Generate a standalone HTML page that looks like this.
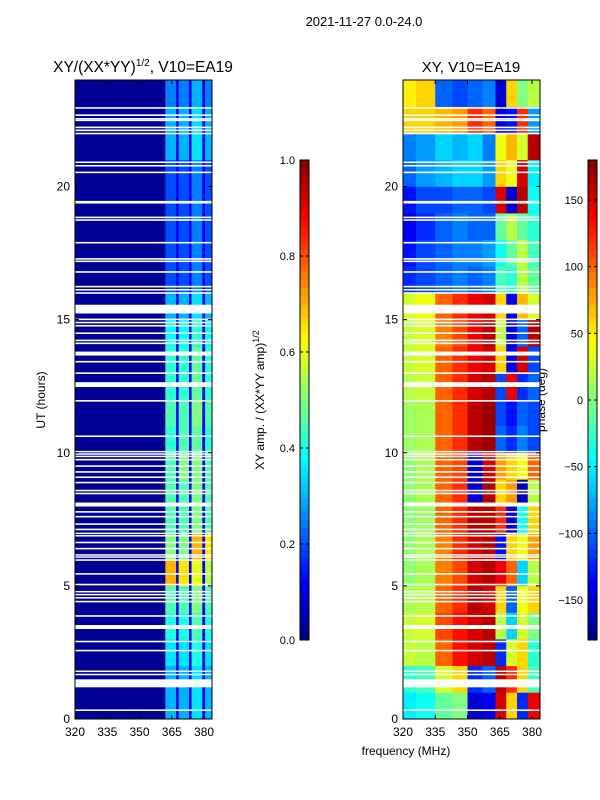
<!DOCTYPE html>
<html><head><meta charset="utf-8">
<style>
body{margin:0;background:#fff;}
svg{display:block;font-family:"Liberation Sans","DejaVu Sans",sans-serif;}
</style></head>
<body>
<svg id="fig" width="600" height="800" viewBox="0 0 600 800" xmlns="http://www.w3.org/2000/svg">
<text x="364" y="26" font-size="13" text-anchor="middle">2021-11-27 0.0-24.0</text>
<text x="143" y="72" font-size="15.5" text-anchor="middle">XY/(XX*YY)<tspan dy="-6" font-size="10">1/2</tspan><tspan dy="6">, V10=EA19</tspan></text>
<text x="471" y="72" font-size="15" text-anchor="middle">XY, V10=EA19</text>
<text x="406" y="755" font-size="12" text-anchor="middle">frequency (MHz)</text>
<text transform="translate(45,400) rotate(-90)" font-size="12" text-anchor="middle">UT (hours)</text>
<text transform="translate(264,400) rotate(-90)" font-size="12" text-anchor="middle">XY amp. / (XX*YY amp)<tspan dy="-5" font-size="9">1/2</tspan></text>
<text transform="translate(545,400) rotate(-90)" font-size="12" text-anchor="middle">phase (deg)</text>
<g id="left"></g>
<g id="right"></g>
<g id="cb1"></g>
<g id="cb2"></g>
</svg>
<script>
// ---- data ----
const yTicks = [0,5,10,15,20];
const xTicks = [320,335,350,365,380];
const ampTicks = [0.0,0.2,0.4,0.6,0.8,1.0];
const phaseTicks = [-150,-100,-50,0,50,100,150];
const ampEdges = [320,362,367,368.2,373,374.2,379.2,380.5,383.7];
const ampStripe1 = [0.3,0.3,0.35,0.4,0.45,0.7,0.5,0.45,0.45,0.45,0.42,0.45,0.42,0.42,0.38,0.3,0.2,0.2,0.2,0.2,0.2,0.3,0.3,0.25];
const ampStripe2 = [0.3,0.3,0.35,0.4,0.45,0.65,0.5,0.45,0.45,0.5,0.45,0.45,0.42,0.42,0.38,0.3,0.2,0.2,0.2,0.2,0.2,0.3,0.3,0.25];
const ampStripe3 = [0.35,0.35,0.4,0.45,0.5,0.6,0.7,0.5,0.5,0.5,0.47,0.5,0.47,0.47,0.42,0.35,0.25,0.25,0.25,0.25,0.25,0.35,0.35,0.3];
const ampStripe4 = [0.3,0.3,0.35,0.4,0.45,0.55,0.65,0.45,0.45,0.45,0.42,0.45,0.42,0.42,0.38,0.3,0.2,0.2,0.2,0.2,0.2,0.3,0.3,0.25];
const ampBackground = 0.02;
const ampGapValue = 0.12;
const phaseEdges = [320,326,335,343,350,357,363,368,373,378,383.7];
const phaseRows = [
[-50,-40,-10,0,-150,-140,150,60,-120,140],
[-30,-20,30,60,-120,-100,160,120,60,-20],
[25,20,100,130,150,160,-120,30,60,-30],
[25,30,110,130,150,160,20,-60,30,0],
[15,20,100,120,160,150,60,-100,40,60],
[5,15,90,110,150,160,140,100,-60,20],
[5,15,90,120,150,160,-130,60,40,80],
[5,10,100,120,160,160,120,-150,-40,60],
[5,15,100,120,-150,160,60,80,-160,20],
[5,15,100,110,-150,150,80,60,40,100],
[10,15,100,120,160,170,-100,-120,-90,-110],
[10,15,100,120,160,170,-110,-130,-100,-110],
[20,25,100,120,150,160,-110,140,-120,-100],
[25,30,100,120,140,150,60,-140,150,-110],
[25,30,90,110,140,160,20,-150,-100,160],
[30,40,100,120,140,150,60,-140,70,30],
[-120,-110,-100,-90,-100,-90,-20,-30,20,-10],
[-130,-110,-100,-90,-90,-80,-40,-10,20,-20],
[-140,-120,-100,-90,-100,-100,-10,20,-10,-30],
[-130,-110,-110,-100,-100,-110,150,-150,160,-40],
[-100,-80,-70,-60,-60,-80,60,40,150,-50],
[-90,-80,-60,-70,-60,-90,40,70,30,160],
[60,60,70,80,120,100,-140,-130,120,-80],
[50,60,-100,-110,-100,-90,-150,60,0,20]];
const gapStart = [22.92,22.65,22.52,22.46,22.19,22.08,21.96,20.88,20.75,20.50,19.36,18.81,18.71,17.86,17.25,17.16,16.76,16.21,16.09,15.97,15.23,14.98,14.86,14.74,14.46,14.19,14.08,13.65,13.39,12.96,12.47,11.92,10.59,10.02,9.93,9.84,9.71,9.47,9.25,9.05,8.85,8.55,8.44,7.98,7.75,7.57,7.29,7.09,6.95,6.86,6.60,6.37,6.14,6.06,5.94,5.42,5.02,4.76,4.65,4.53,4.38,3.84,3.38,2.88,2.54,1.77,1.65,1.19,0.30];
const gapLength = [0.06,0.06,0.05,0.05,0.06,0.06,0.06,0.06,0.06,0.06,0.1,0.06,0.06,0.06,0.06,0.06,0.06,0.06,0.06,0.06,0.33,0.06,0.06,0.06,0.06,0.06,0.06,0.15,0.06,0.06,0.18,0.06,0.06,0.05,0.05,0.05,0.06,0.06,0.06,0.06,0.06,0.06,0.06,0.15,0.06,0.06,0.06,0.06,0.05,0.05,0.06,0.06,0.05,0.05,0.06,0.06,0.06,0.05,0.05,0.05,0.06,0.06,0.15,0.06,0.06,0.05,0.05,0.3,0.06];

// ---- layout ----
const NS="http://www.w3.org/2000/svg";
const Y0=719, Y1=80, HMAX=24;
const yS = h => Y0 - (h/HMAX)*(Y0-Y1);
const panels = {left:{x0:75,x1:212}, right:{x0:403,x1:540}};
const FMIN=320, FMAX=383.7;
function xS(p,f){return p.x0 + (f-FMIN)/(FMAX-FMIN)*(p.x1-p.x0);}
function cl(v){return Math.max(0,Math.min(1,v));}
function jet(t){t=cl(t);const r=cl(1.5-Math.abs(4*t-3)),g=cl(1.5-Math.abs(4*t-2)),b=cl(1.5-Math.abs(4*t-1));
 return `rgb(${Math.round(r*255)},${Math.round(g*255)},${Math.round(b*255)})`;}
function mk(tag,attrs,parent){const e=document.createElementNS(NS,tag);for(const k in attrs)e.setAttribute(k,attrs[k]);parent.appendChild(e);return e;}

// amplitude heatmap
const L=document.getElementById('left');
const stripes=[ampStripe1,ampStripe2,ampStripe3,ampStripe4];
for(let h=0;h<HMAX;h++){
  for(let c=0;c<ampEdges.length-1;c++){
    let v;
    if(c===0) v=ampBackground;
    else if(c%2===1) v=stripes[(c-1)/2][h];
    else v=ampGapValue;
    const r=mk('rect',{x:xS(panels.left,ampEdges[c]),y:yS(h+1),width:xS(panels.left,ampEdges[c+1])-xS(panels.left,ampEdges[c])+0.3,height:yS(h)-yS(h+1)+0.3,fill:jet(v)},L);
    
    
  }
}
// phase heatmap
const R=document.getElementById('right');
for(let h=0;h<HMAX;h++){
  for(let c=0;c<phaseEdges.length-1;c++){
    const v=(phaseRows[h][c]+180)/360;
    const r=mk('rect',{x:xS(panels.right,phaseEdges[c]),y:yS(h+1),width:xS(panels.right,phaseEdges[c+1])-xS(panels.right,phaseEdges[c])+0.3,height:yS(h)-yS(h+1)+0.3,fill:jet(v)},R);
    
    
  }
}
// flagged gaps
for(const key of ['left','right']){
  const p=panels[key], g=document.getElementById(key);
  for(let i=0;i<gapStart.length;i++){
    const r=mk('rect',{x:p.x0,y:yS(gapStart[i]+gapLength[i]),width:p.x1-p.x0,height:Math.max(1.5,yS(gapStart[i])-yS(gapStart[i]+gapLength[i])),fill:'#fff'},g);
    
    
  }
  const fr=mk('rect',{x:p.x0,y:Y1,width:p.x1-p.x0,height:Y0-Y1,fill:'none',stroke:'#000','stroke-width':1},g);
  
  
  for(const t of yTicks){
    const y=yS(t);
    mk('line',{x1:p.x0,x2:p.x0+4,y1:y,y2:y,stroke:'#000'},g);
    mk('line',{x1:p.x1,x2:p.x1-4,y1:y,y2:y,stroke:'#000'},g);
    const tx=mk('text',{x:p.x0-5,y:y+4,'font-size':12,'text-anchor':'end'},g);
    tx.textContent=t;
    
    
  }
  for(const t of xTicks){
    const x=xS(p,t);
    mk('line',{x1:x,x2:x,y1:Y0,y2:Y0-4,stroke:'#000'},g);
    mk('line',{x1:x,x2:x,y1:Y1,y2:Y1+4,stroke:'#000'},g);
    const tx=mk('text',{x:x,y:Y0+17,'font-size':12,'text-anchor':'middle'},g);
    tx.textContent=t;
    
    
  }
}
// colorbars
function colorbar(id,x,vmin,vmax,ticks,fmt){
  const g=document.getElementById(id), top=160, bot=640, N=64;
  for(let i=0;i<N;i++){
    const y=bot-(i+1)*(bot-top)/N;
    mk('rect',{x:x,y:y,width:9,height:(bot-top)/N+0.4,fill:jet((i+0.5)/N)},g);
  }
  mk('rect',{x:x,y:top,width:9,height:bot-top,fill:'none',stroke:'#000'},g);
  for(const t of ticks){
    const y=bot-(t-vmin)/(vmax-vmin)*(bot-top);
    mk('line',{x1:x,x2:x+3,y1:y,y2:y,stroke:'#000'},g);
    mk('line',{x1:x+9,x2:x+6,y1:y,y2:y,stroke:'#000'},g);
    const tx=mk('text',{x:x-5,y:y+4,'font-size':11,'text-anchor':'end'},g);
    tx.textContent=fmt(t);
    
    
  }
}
colorbar('cb1',300,0,1,ampTicks,t=>t.toFixed(1));
colorbar('cb2',588,-180,180,phaseTicks,t=>t<0?'\u2212'+(-t):String(t));
</script>
</body></html>
